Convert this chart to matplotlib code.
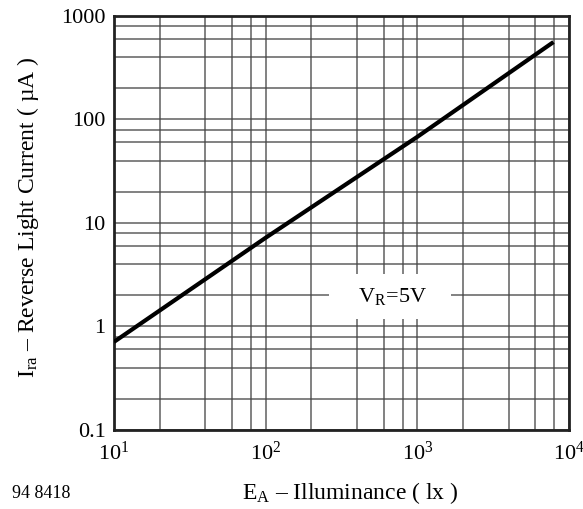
import matplotlib
matplotlib.use("Agg")
import matplotlib.pyplot as plt
from matplotlib.ticker import LogLocator, NullFormatter

plt.rcParams['font.family'] = ['Liberation Serif', 'DejaVu Serif']
plt.rcParams['mathtext.fontset'] = 'custom'
plt.rcParams['mathtext.rm'] = 'Liberation Serif'
plt.rcParams['mathtext.it'] = 'Liberation Serif:italic'

# Data
illuminance = [10, 100, 1000, 7900]       # lx
current = [0.71, 7.2, 68, 560]            # µA
x_ticks = [10, 100, 1000, 10000]
x_tick_labels = [r'$\mathrm{10^{1}}$', r'$\mathrm{10^{2}}$', r'$\mathrm{10^{3}}$', r'$\mathrm{10^{4}}$']
y_ticks = [0.1, 1, 10, 100, 1000]
y_tick_labels = ['0.1', '1', '10', '100', '1000']

fig = plt.figure(figsize=(5.83, 5.09), dpi=100)
ax = fig.add_axes([0.1955, 0.1552, 0.7805, 0.8134])

ax.set_xscale('log')
ax.set_yscale('log')
ax.set_xlim(10, 10000)
ax.set_ylim(0.1, 1000)

ax.plot(illuminance, current, color='black', lw=3, solid_capstyle='butt', zorder=3)

ax.set_xticks(x_ticks)
ax.set_xticklabels(x_tick_labels)
ax.set_yticks(y_ticks)
ax.set_yticklabels(y_tick_labels)
ax.xaxis.set_minor_locator(LogLocator(base=10, subs=[2, 4, 6, 8]))
ax.yaxis.set_minor_locator(LogLocator(base=10, subs=[2, 4, 6, 8]))
ax.xaxis.set_minor_formatter(NullFormatter())
ax.yaxis.set_minor_formatter(NullFormatter())
ax.tick_params(which='both', length=0, labelsize=16, colors='black')
ax.tick_params(axis='x', pad=8)
ax.tick_params(axis='y', pad=6)

ax.grid(True, which='both', color='#444444', lw=1.1, alpha=0.85)
ax.set_axisbelow(True)
for s in ax.spines.values():
    s.set_linewidth(2)
    s.set_color('#222222')

ax.text(660, 1.95, r'   V$_\mathrm{R}$=5V   ', fontsize=16, ha='center', va='center',
        bbox=dict(boxstyle='square,pad=0.55', fc='white', ec='none'), zorder=2)

ax.set_ylabel(r'I$_\mathrm{ra}$ – Reverse Light Current ( µA )', fontsize=17)
ax.yaxis.set_label_coords(-0.16, 0.515)
ax.set_xlabel(r'E$_\mathrm{A}$ – Illuminance ( lx )', fontsize=17)
ax.xaxis.set_label_coords(0.52, -0.122)
fig.text(0.02, 0.03, '94 8418', fontsize=13, ha='left', va='center')

fig.savefig('out.png', dpi=100)
